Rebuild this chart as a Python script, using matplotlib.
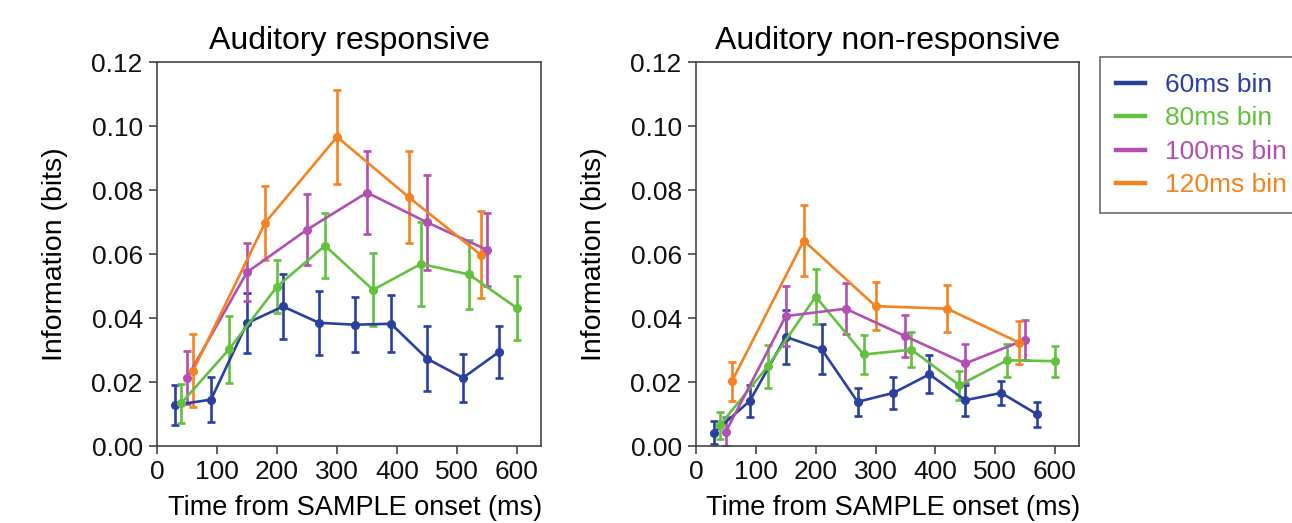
import matplotlib
matplotlib.use("Agg")
import matplotlib.pyplot as plt

plt.rcParams['font.family'] = ['Liberation Sans', 'DejaVu Sans']

# --- dados ---
t60 = [30, 90, 150, 210, 270, 330, 390, 450, 510, 570]
t80 = [40, 120, 200, 280, 360, 440, 520, 600]
t100 = [50, 150, 250, 350, 450, 550]
t120 = [60, 180, 300, 420, 540]

# painel esquerdo: auditory responsive
resp60 = [0.0128, 0.0145, 0.0384, 0.0436, 0.0385, 0.0379, 0.0382, 0.0273, 0.0213, 0.0294]
resp60_err = [0.0062, 0.0071, 0.0093, 0.0102, 0.0100, 0.0086, 0.0089, 0.0101, 0.0074, 0.0082]
resp80 = [0.0133, 0.0302, 0.0498, 0.0626, 0.0488, 0.0569, 0.0536, 0.0431]
resp80_err = [0.0060, 0.0105, 0.0082, 0.0102, 0.0114, 0.0130, 0.0107, 0.0100]
resp100 = [0.0213, 0.0543, 0.0676, 0.0792, 0.0699, 0.0613]
resp100_err = [0.0083, 0.0091, 0.0110, 0.0131, 0.0148, 0.0114]
resp120 = [0.0235, 0.0697, 0.0966, 0.0777, 0.0597]
resp120_err = [0.0114, 0.0117, 0.0147, 0.0144, 0.0136]

# painel direito: auditory non-responsive
nonr60 = [0.0042, 0.0141, 0.0341, 0.0302, 0.0138, 0.0166, 0.0224, 0.0143, 0.0166, 0.0099]
nonr60_err = [0.0036, 0.0049, 0.0084, 0.0078, 0.0044, 0.0049, 0.0059, 0.0048, 0.0038, 0.0039]
nonr80 = [0.0065, 0.0249, 0.0467, 0.0286, 0.0301, 0.0190, 0.0268, 0.0265]
nonr80_err = [0.0042, 0.0068, 0.0086, 0.0061, 0.0054, 0.0045, 0.0052, 0.0049]
nonr100 = [0.0045, 0.0406, 0.0429, 0.0343, 0.0258, 0.0332]
nonr100_err = [0.0045, 0.0093, 0.0079, 0.0066, 0.0061, 0.0063]
nonr120 = [0.0202, 0.0642, 0.0437, 0.0429, 0.0323]
nonr120_err = [0.0061, 0.0111, 0.0075, 0.0073, 0.0068]

labels = ["60ms bin", "80ms bin", "100ms bin", "120ms bin"]
cores = ["#2b3f9f", "#62c13e", "#b24fb0", "#f5821f"]
xticks = [0, 100, 200, 300, 400, 500, 600]
yticks = [0.00, 0.02, 0.04, 0.06, 0.08, 0.10, 0.12]

fig = plt.figure(figsize=(12.92, 5.23), dpi=100)
ax1 = fig.add_axes([157/1292, 77/523, 384/1292, 384/523])
ax2 = fig.add_axes([696/1292, 77/523, 383/1292, 384/523])

paineis = [
    (ax1, "Auditory responsive",
     [(t60, resp60, resp60_err), (t80, resp80, resp80_err),
      (t100, resp100, resp100_err), (t120, resp120, resp120_err)]),
    (ax2, "Auditory non-responsive",
     [(t60, nonr60, nonr60_err), (t80, nonr80, nonr80_err),
      (t100, nonr100, nonr100_err), (t120, nonr120, nonr120_err)]),
]

for ax, titulo, series in paineis:
    for (x, y, e), c, lab in zip(series, cores, labels):
        ax.errorbar(x, y, yerr=e, color=c, lw=1.9, marker='o', ms=5.5,
                    elinewidth=1.9, capsize=2.8, capthick=1.9, label=lab)
    ax.set_xlim(0, 640)
    ax.set_ylim(0, 0.12)
    ax.set_xticks(xticks)
    ax.set_yticks(yticks)
    ax.set_yticklabels([f"{v:.2f}" for v in yticks])
    ax.tick_params(direction='out', length=5.8, width=1.2, labelsize=19,
                   colors='#111111', pad=4.5)
    ax.tick_params(color='#444444')
    for s in ax.spines.values():
        s.set_color('#444444')
        s.set_linewidth(1.2)
    ax.set_title(titulo, fontsize=23, pad=9)
    ax.set_ylabel("Information (bits)", fontsize=20.5, labelpad=17)
    # rótulo do eixo x bem junto da borda de baixo, como no original
    ax.set_xlabel("Time from SAMPLE onset (ms)", fontsize=19.5)
    ax.xaxis.set_label_coords(0.515, -0.127)

leg = fig.legend(handles=[plt.Line2D([], [], color=c, lw=3.2) for c in cores],
                 labels=labels, loc='upper left',
                 bbox_to_anchor=(1100/1292, 1 - 57/523), fontsize=19,
                 frameon=True, fancybox=False, handlelength=1.1,
                 handletextpad=0.75, borderpad=0.6, labelspacing=0.36,
                 borderaxespad=0)
leg.get_frame().set_edgecolor('#444444')
leg.get_frame().set_linewidth(1.2)
for txt, c in zip(leg.get_texts(), cores):
    txt.set_color(c)

fig.savefig("out.png", dpi=100)
